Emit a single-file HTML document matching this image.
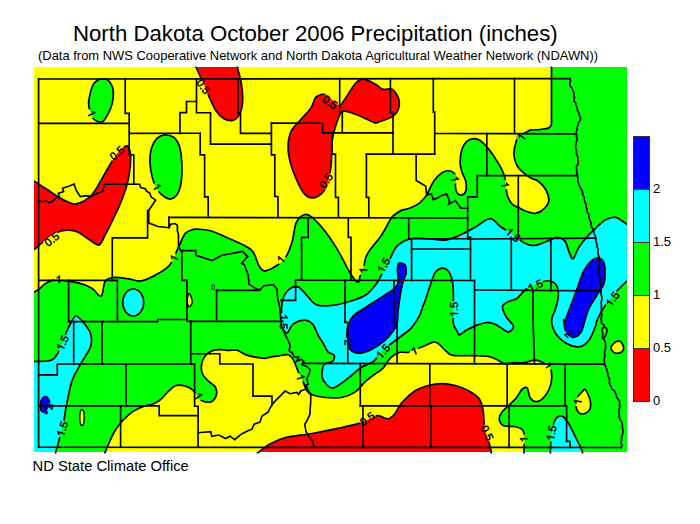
<!DOCTYPE html>
<html><head><meta charset="utf-8"><style>
html,body{margin:0;padding:0;background:#fff;width:700px;height:524px;overflow:hidden}
svg{display:block}
text{font-family:"Liberation Sans",sans-serif}
</style></head><body>
<svg width="700" height="524" viewBox="0 0 700 524">
<rect width="700" height="524" fill="#fff"/>
<text x="73" y="41" font-size="22.2" fill="#000">North Dakota October 2006 Precipitation (inches)</text>
<text x="38" y="60" font-size="12.95" fill="#000">(Data from NWS Cooperative Network and North Dakota Agricultural Weather Network (NDAWN))</text>
<defs><path id="gl46" d="M187 0V219H382V0Z"/><path id="gl48" d="M1059 705Q1059 352 934.5 166.0Q810 -20 567 -20Q324 -20 202.0 165.0Q80 350 80 705Q80 1068 198.5 1249.0Q317 1430 573 1430Q822 1430 940.5 1247.0Q1059 1064 1059 705ZM876 705Q876 1010 805.5 1147.0Q735 1284 573 1284Q407 1284 334.5 1149.0Q262 1014 262 705Q262 405 335.5 266.0Q409 127 569 127Q728 127 802.0 269.0Q876 411 876 705Z"/><path id="gl49" d="M763 0H583V1147Q518 1085 412 1023Q307 961 223 930V1104Q374 1175 487 1276Q600 1377 647 1472H763Z"/><path id="gl50" d="M103 0V127Q154 244 227.5 333.5Q301 423 382.0 495.5Q463 568 542.5 630.0Q622 692 686.0 754.0Q750 816 789.5 884.0Q829 952 829 1038Q829 1154 761.0 1218.0Q693 1282 572 1282Q457 1282 382.5 1219.5Q308 1157 295 1044L111 1061Q131 1230 254.5 1330.0Q378 1430 572 1430Q785 1430 899.5 1329.5Q1014 1229 1014 1044Q1014 962 976.5 881.0Q939 800 865.0 719.0Q791 638 582 468Q467 374 399.0 298.5Q331 223 301 153H1036V0Z"/><path id="gl53" d="M1053 459Q1053 236 920.5 108.0Q788 -20 553 -20Q356 -20 235.0 66.0Q114 152 82 315L264 336Q321 127 557 127Q702 127 784.0 214.5Q866 302 866 455Q866 588 783.5 670.0Q701 752 561 752Q488 752 425.0 729.0Q362 706 299 651H123L170 1409H971V1256H334L307 809Q424 899 598 899Q806 899 929.5 777.0Q1053 655 1053 459Z"/><clipPath id="mc"><rect x="34" y="67" width="593" height="385"/></clipPath><clipPath id="sc"><rect x="34" y="66.5" width="593" height="387"/></clipPath></defs>
<mask id="gm" maskUnits="userSpaceOnUse" x="0" y="0" width="700" height="524"><rect width="700" height="524" fill="#fff"/>
<rect x="87" y="109.6" width="9" height="8" fill="#000" transform="rotate(65 91.5 113.6)"/>
<rect x="108.7" y="149.1" width="17" height="8" fill="#000" transform="rotate(-41 117.2 153.1)"/>
<rect x="152.6" y="183.1" width="9" height="8" fill="#000" transform="rotate(61 157.1 187.1)"/>
<rect x="43.5" y="235.4" width="17" height="8" fill="#000" transform="rotate(-39 52 239.4)"/>
<rect x="54.2" y="275.5" width="9" height="8" fill="#000" transform="rotate(0 58.7 279.5)"/>
<rect x="194.9" y="82.7" width="17" height="8" fill="#000" transform="rotate(55 203.4 86.7)"/>
<rect x="321.7" y="98.2" width="17" height="8" fill="#000" transform="rotate(35 330.2 102.2)"/>
<rect x="317.7" y="176.7" width="17" height="8" fill="#000" transform="rotate(-56 326.2 180.7)"/>
<rect x="169.7" y="254.2" width="9" height="8" fill="#000" transform="rotate(-63 174.2 258.2)"/>
<rect x="276.6" y="255.5" width="9" height="8" fill="#000" transform="rotate(-50 281.1 259.5)"/>
<rect x="359.1" y="266.5" width="9" height="8" fill="#000" transform="rotate(-85 363.6 270.5)"/>
<rect x="450.5" y="175.1" width="9" height="8" fill="#000" transform="rotate(80 455 179.1)"/>
<rect x="500.4" y="180.9" width="9" height="8" fill="#000" transform="rotate(80 504.9 184.9)"/>
<rect x="504.4" y="231.1" width="17" height="8" fill="#000" transform="rotate(40 512.9 235.1)"/>
<rect x="275.2" y="317.7" width="17" height="8" fill="#000" transform="rotate(90 283.7 321.7)"/>
<rect x="343.9" y="338.5" width="9" height="8" fill="#000" transform="rotate(90 348.4 342.5)"/>
<rect x="374.6" y="347.4" width="17" height="8" fill="#000" transform="rotate(-50 383.1 351.4)"/>
<rect x="409.8" y="346.9" width="9" height="8" fill="#000" transform="rotate(-22 414.3 350.9)"/>
<rect x="296" y="373.4" width="9" height="8" fill="#000" transform="rotate(72 300.5 377.4)"/>
<rect x="526.8" y="281.8" width="17" height="8" fill="#000" transform="rotate(-25 535.3 285.8)"/>
<rect x="604.1" y="295.1" width="17" height="8" fill="#000" transform="rotate(-55 612.6 299.1)"/>
<rect x="564.1" y="329.8" width="9" height="8" fill="#000" transform="rotate(45 568.6 333.8)"/>
<rect x="544.5" y="361.2" width="9" height="8" fill="#000" transform="rotate(55 549 365.2)"/>
<rect x="573.5" y="397.8" width="9" height="8" fill="#000" transform="rotate(-80 578 401.8)"/>
<rect x="358.9" y="414.9" width="17" height="8" fill="#000" transform="rotate(-35 367.4 418.9)"/>
<rect x="478.7" y="429" width="17" height="8" fill="#000" transform="rotate(65 487.2 433)"/>
<rect x="519.6" y="435.3" width="9" height="8" fill="#000" transform="rotate(-90 524.1 439.3)"/>
<rect x="543" y="429" width="17" height="8" fill="#000" transform="rotate(-80 551.5 433)"/>
<rect x="54.1" y="338.9" width="17" height="8" fill="#000" transform="rotate(-65 62.6 342.9)"/>
<rect x="44.4" y="403" width="9" height="8" fill="#000" transform="rotate(-90 48.9 407)"/>
<rect x="53.9" y="425" width="17" height="8" fill="#000" transform="rotate(-72 62.4 429)"/>
<rect x="375.2" y="261.2" width="17" height="8" fill="#000" transform="rotate(-60 383.7 265.2)"/>
<rect x="445.5" y="305.5" width="17" height="8" fill="#000" transform="rotate(-90 454 309.5)"/>
<rect x="517.2" y="133.2" width="9" height="8" fill="#000" transform="rotate(-52 521.7 137.2)"/>
<rect x="193.9" y="392.3" width="9" height="8" fill="#000" transform="rotate(57 198.4 396.3)"/>
</mask>
<g clip-path="url(#mc)">
<rect x="34" y="67" width="593" height="385" fill="#ffff00"/>
<path d="M20,172 L33.8,180.9 C36,182.3 42.5,186.5 46.8,189.3 C51.1,192.1 54.9,195.2 59.4,197.7 C63.9,200.1 69.8,203.5 74,204 C78.2,204.5 81.3,202.6 84.5,200.8 C87.7,199.1 90.1,197 92.9,193.5 C95.7,190 98.5,184.6 101.3,179.9 C104.1,175.2 106.9,169.8 109.7,165.2 C112.5,160.6 115.5,155.8 118.1,152.6 C120.7,149.4 123.7,147.2 125.4,146.3 C127.2,145.4 127.7,145.6 128.6,147.3 C129.5,149.1 130.7,151.7 130.7,156.8 C130.7,161.9 130,170.8 128.6,177.8 C127.2,184.8 124.8,192.1 122.3,198.7 C119.8,205.3 116.7,211.6 113.9,217.6 C111.1,223.6 108,229.8 105.5,234.4 C103,239 101.7,243.9 99.2,244.9 C96.8,245.9 94.3,242.8 90.8,240.7 C87.3,238.6 82,234.1 78.2,232.3 C74.4,230.6 71.3,230.2 67.8,230.2 C64.3,230.2 60.8,230.9 57.3,232.3 C53.8,233.7 50.3,236 46.8,238.6 C43.3,241.2 38,246.4 36.3,248 L20,258 L20,172Z" fill="#ff0000"/>
<path d="M194,60 L237.4,60 L237.4,67.5 C238.1,70.2 240.5,78.6 241.4,84 C242.3,89.4 242.9,95.1 242.7,100 C242.5,104.9 241.6,110.1 240,113.4 C238.4,116.8 236.1,119.2 233.4,120.1 C230.7,121 226.9,120.3 224,118.8 C221.1,117.2 218.4,114.4 216,110.8 C213.6,107.2 211.6,102.3 209.4,97.4 C207.2,92.5 204.3,85 202.7,81.4 C201.1,77.8 201.1,78.4 200,76 C198.9,73.6 196.7,68.5 196,67 L194,60Z" fill="#ff0000"/>
<path d="M317.6,96.1 C319.4,95.4 322.1,93.2 325.6,94.7 C329.2,96.2 335.8,104.5 338.9,105.4 C342,106.3 341.6,103.7 344.3,100.1 C347,96.5 351.9,87.5 355,84 C358.1,80.5 359.7,79.2 363,79.2 C366.3,79.2 371.7,82.3 375,84 C378.3,85.7 380.1,88.5 383,89.4 C385.9,90.3 389.7,87.6 392.4,89.4 C395.1,91.2 398.1,96.4 399,100 C399.9,103.6 399,107.9 397.7,110.8 C396.4,113.7 393.9,115.6 391,117.4 C388.1,119.2 383,120.5 380.3,121.4 C377.6,122.3 377.9,123.5 375,122.8 C372.1,122.1 367.2,119.2 363,117.4 C358.8,115.6 353.2,113 349.6,112.1 C346,111.2 343.8,110.1 341.6,112.1 C339.4,114.1 337.9,119.4 336.3,124.1 C334.7,128.8 333.1,133.1 332.2,140.2 C331.3,147.3 332,158.9 330.9,166.9 C329.8,174.9 328.3,183.1 325.6,188.2 C322.9,193.3 318.5,196.7 314.9,197.6 C311.3,198.5 307.8,197.8 304.2,193.6 C300.6,189.4 296.2,179.3 293.5,172.2 C290.8,165.1 288.6,157.5 288.2,150.8 C287.8,144.1 288.6,137.4 290.8,132.1 C293,126.8 298.1,122.8 301.5,118.8 C304.9,114.8 308.7,111.4 310.9,108.1 C313.1,104.8 313.8,100.7 314.9,98.7 C316,96.7 315.8,96.8 317.6,96.1Z" fill="#ff0000"/>
<path d="M101.8,79.2 C103.3,79.2 105.7,78.4 107.5,79.7 C109.3,81 111.6,84.2 112.6,87.2 C113.5,90.2 113.5,94.1 113.2,97.5 C112.9,100.9 112.1,104.5 110.9,107.8 C109.8,111 107.8,114.6 106.3,117 C104.8,119.4 103.9,121.7 101.8,122.1 C99.7,122.5 95.6,121 93.7,119.2 C91.8,117.4 91.2,113.9 90.3,111.2 C89.4,108.5 88.5,106.6 88.6,103.2 C88.7,99.8 90.1,93.8 90.9,90.6 C91.8,87.3 92.5,85.5 93.7,83.7 C94.9,81.9 97,80.5 98.3,79.7 C99.6,79 100.3,79.2 101.8,79.2Z" fill="#00ff00"/>
<path d="M164.4,134.9 C167.2,134.7 171.2,135.5 173.6,137.2 C176,138.8 177.6,141.8 178.9,144.8 C180.2,147.9 180.7,151.2 181.2,155.5 C181.7,159.8 182.1,165.7 182,170.8 C181.9,175.9 181.4,182 180.5,186.1 C179.6,190.2 178.3,193 176.6,195.2 C174.9,197.3 172.5,198.7 170.5,199 C168.5,199.3 166.7,198.5 164.4,196.8 C162.1,195.2 158.8,192.4 156.8,189.1 C154.8,185.8 153.3,181.5 152.2,176.9 C151,172.3 150,166.4 149.9,161.6 C149.8,156.8 150.3,151.7 151.5,147.9 C152.7,144.1 154.7,140.9 156.8,138.7 C159,136.5 161.6,135.2 164.4,134.9Z" fill="#00ff00"/>
<path d="M20,296 L34.4,292 C35.2,291.5 37.6,290.3 39.3,289 C41,287.7 42.7,285.5 44.7,284.1 C46.7,282.7 49.3,281.5 51.4,280.8 C53.5,280.1 52.6,279.5 57.1,279.8 C61.6,280.1 72.6,281.5 78.4,282.9 C84.2,284.3 88,286 91.8,288.2 C95.6,290.4 98.9,297.3 101.1,296.2 C103.3,295.1 103.1,284.6 105.1,281.5 C107.1,278.4 109.2,277.9 113.2,277.5 C117.2,277.1 124.7,278.3 129.2,278.9 C133.6,279.5 135.9,281.4 139.9,281 C143.9,280.6 148.3,278.8 153.2,276.2 C158.1,273.6 165.1,270.4 169.3,265.5 C173.5,260.6 175.9,252.2 178.6,246.8 C181.3,241.5 182.9,236.3 185.3,233.4 C187.8,230.5 190.9,230.1 193.3,229.4 C195.8,228.7 197.1,229.2 200,229.4 C202.9,229.6 206.2,229.5 210.7,230.8 C215.1,232.1 220,234.3 226.7,237.4 C233.4,240.5 245.5,244.8 250.8,249.5 C256.2,254.2 256.6,261.9 258.8,265.5 C261,269.1 261.4,270.6 264.1,270.8 C266.8,271 271.2,269 274.8,266.8 C278.4,264.6 282.6,261.7 285.5,257.5 C288.4,253.3 290.4,247.2 292.2,241.4 C294,235.6 294.2,227.1 296.2,222.7 C298.2,218.2 301.5,215.6 304.2,214.7 C306.9,213.8 308.6,214.5 312.2,217.4 C315.8,220.3 321.2,226.3 325.6,232.1 C330.1,237.9 334.9,245.4 338.9,252.1 C342.9,258.8 346.5,267.2 349.6,272.2 C352.7,277.2 355.8,281.6 357.6,282.2 C359.4,282.8 359.2,278.2 360.2,275.7 C361.2,273.2 362.8,270 363.7,267.1 C364.6,264.2 364.5,261.1 365.4,258.5 C366.2,255.9 367.4,253.9 368.8,251.6 C370.2,249.3 372,247.4 374,244.8 C376,242.2 378.8,239.1 380.8,236.2 C382.8,233.3 384.3,230.6 386,227.6 C387.7,224.6 389.7,220.3 391.1,218.2 C392.5,216 392.9,216 394.6,214.7 C396.3,213.4 398.9,211.5 401.4,210.4 C403.9,209.3 406.6,209.4 409.5,208.2 C412.4,207 416.2,205.6 419.1,203.4 C422,201.2 424.5,198.2 426.7,194.9 C428.9,191.6 430.5,186.6 432.4,183.4 C434.3,180.2 436,177.9 438.2,175.8 C440.4,173.7 443.4,171.6 445.8,171 C448.2,170.4 450.8,171.1 452.5,172 C454.2,172.9 455.8,174.5 456.3,176.7 C456.8,178.9 455.2,182.6 455.3,185.3 C455.4,188 456.1,191.4 457.2,193 C458.3,194.6 460.6,195.2 462,194.9 C463.4,194.6 465.2,193.2 465.8,191 C466.4,188.8 466.4,184.7 465.8,181.5 C465.2,178.3 462.9,175.2 462,172 C461.1,168.8 460.1,166.2 460.1,162.4 C460.1,158.6 460.9,152.6 462,149.1 C463.1,145.6 464.9,143.2 466.8,141.4 C468.7,139.7 471.2,138.8 473.4,138.6 C475.6,138.4 477.7,138.9 480.1,140.5 C482.5,142.1 485.2,145.1 487.8,148.1 C490.4,151.1 493.2,155.2 495.4,158.6 C497.6,161.9 499.5,165 501.1,168.2 C502.7,171.4 504.1,174.5 504.9,177.7 C505.7,180.9 505.4,184 505.9,187.2 C506.4,190.4 506.7,193.9 507.8,196.8 C508.9,199.7 510.6,202.5 512.6,204.4 C514.6,206.3 518,207.1 520,208.2 C522,209.2 522.1,209.8 524.6,210.7 C527.1,211.6 532.2,213.6 535.3,213.4 C538.4,213.2 541.1,211.4 543.3,209.4 C545.5,207.4 548.2,204.6 548.7,201.4 C549.2,198.2 547.8,193.4 546,190 C544.2,186.6 540.7,183.1 538,181 C535.3,178.9 533.4,179.9 530,177.6 C526.6,175.2 520.6,170.9 517.9,166.9 C515.2,162.9 514.1,157.9 513.9,153.5 C513.7,149.1 515.9,143.2 516.6,140.2 C517.3,137.2 517,136.8 518.3,135.6 C519.6,134.4 522.4,134.2 524.4,133.3 C526.4,132.4 528,130.8 530.5,130.2 C533,129.6 536.6,129.9 539.7,129.5 C542.8,129.1 546.9,128.8 548.9,127.9 C550.9,127 551.1,124.7 551.5,124.1 L551.5,60 L640,60 L640,460 L523.3,460 L524,451.4 C524,449.5 524.3,443.1 524.3,440 C524.3,436.9 524.5,434.9 524,433 C523.5,431.1 522.7,429.6 521,428.5 C519.3,427.4 517,427 514,426.5 C511,426 505.7,426.8 503.2,425.5 C500.7,424.2 499.4,421.1 499.2,418.9 C499,416.7 500.3,414.4 501.9,412.2 C503.5,410 506.2,407.9 508.6,405.5 C511.1,403.1 514.4,400.2 516.6,397.5 C518.8,394.8 520.2,391.1 522,389.5 C523.8,387.9 526,386.8 527.3,388.1 C528.6,389.4 528.6,395.3 530,397.5 C531.4,399.7 533.4,401.3 535.5,401.5 C537.6,401.7 540.1,400.8 542.4,398.8 C544.6,396.8 547.5,392.8 549,389.5 C550.5,386.2 551.5,382.4 551.7,378.8 C551.9,375.2 551.4,370.6 550.4,368.1 C549.4,365.7 548.5,365.4 546,364.1 C543.5,362.8 538.9,360.3 535.3,360.1 C531.7,359.9 528.2,362.3 524.6,362.7 C521,363.1 517.2,362.6 513.9,362.7 C510.6,362.8 507.7,364.1 504.7,363.5 C501.7,362.9 498.7,360.3 496.1,359.2 C493.5,358.1 492.6,357.2 489.2,356.6 C485.8,356 481.5,355.9 475.5,355.7 C469.5,355.5 458.1,356.1 453.2,355.4 C448.3,354.7 448.6,353.2 446.3,351.4 C444,349.6 441.5,346.2 439.5,344.6 C437.5,343 436.6,341.9 434.3,342 C432,342.1 428.3,344.4 425.7,345.4 C423.1,346.4 421.9,346.9 418.9,348 C415.9,349.1 410.8,351.6 407.7,352.3 C404.6,353 402.8,351.5 400,352.3 C397.2,353.1 393.8,354.8 391,357.4 C388.2,360 385.7,365.3 383,368.1 C380.3,370.9 377.9,371.8 375,374 C372.1,376.2 368.9,378.4 365.6,381.4 C362.3,384.4 359,389.4 355,392.1 C351,394.8 346.5,396.6 341.6,397.5 C336.7,398.4 330.5,397.9 325.6,397.5 C320.7,397.1 315.3,395.9 312.2,394.8 C309.1,393.7 308.4,393 306.9,390.8 C305.3,388.6 304.2,384.3 302.9,381.4 C301.6,378.5 300.5,376.9 298.9,373.4 C297.3,369.8 295.3,363.2 293.5,360.1 C291.7,357 290.9,355.4 288.2,354.7 C285.5,354 280.5,355.7 277.5,356.1 C274.5,356.5 272.2,356.8 270,357.2 C267.8,357.6 266.9,358.3 264.5,358.3 C262.1,358.3 258.4,357.8 255.3,357.2 C252.2,356.6 249.2,356 246.2,354.9 C243.1,353.8 240.1,351.1 237,350.3 C233.9,349.5 231,350.4 227.9,350.3 C224.8,350.2 221.4,349.5 218.7,349.6 C216,349.7 214.1,349.9 211.8,351 C209.5,352.1 206.7,353.6 205,356 C203.3,358.4 201.9,362.1 201.5,365.2 C201.1,368.2 201.5,371.6 202.7,374.3 C203.8,377 206.3,379.1 208.4,381.2 C210.5,383.3 214,384.7 215.3,387 C216.6,389.3 217,392.6 216.4,395 C215.8,397.4 213.7,400.3 211.8,401.4 C209.9,402.5 207.3,402.3 205,401.8 C202.7,401.3 199.6,399.7 198.1,398.4 C196.6,397.1 197.1,395.5 195.8,393.8 C194.5,392.1 192.4,389.5 190.1,388.1 C187.8,386.7 184.6,385.7 182.1,385.3 C179.6,384.9 177.5,384.8 175.2,385.8 C172.9,386.8 171,389 168.3,391.5 C165.6,394 162.2,398.4 159.2,400.7 C156.1,403 151.9,404.6 150,405.3 C148.1,406 150.9,403.9 147.9,405 C144.9,406.1 137.2,408.1 131.9,412.2 C126.6,416.3 120.3,422.8 115.8,429.5 C111.3,436.2 106.9,448.4 105.1,452.2 L105,460 L20,460 L20,296Z" fill="#00ff00"/>
<path d="M258.8,452.2 C260.6,450.9 265.1,446.6 269.5,444.2 C273.9,441.8 278.4,439.4 285.5,437.6 C292.6,435.8 303.3,435.1 312.2,433.5 C321.1,431.9 330.9,430 338.9,428.2 C346.9,426.4 354.3,424.9 360.3,422.9 C366.3,420.9 371.7,417.3 375,416.2 C378.3,415.1 378.1,415.8 380.3,416.2 C382.5,416.6 385.9,419.3 388.4,418.9 C390.8,418.4 392.8,416.2 395,413.5 C397.2,410.8 398.3,406.6 401.7,402.8 C405.1,399 410.7,393.7 415.1,390.8 C419.6,387.9 423.9,386.7 428.4,385.5 C432.8,384.3 437.3,383.6 441.8,383.6 C446.3,383.6 450.8,384.3 455.2,385.5 C459.6,386.7 464.5,388.6 468.5,390.8 C472.5,393 476.8,395.5 479.2,398.8 C481.6,402.1 482.3,406.1 483.2,410.8 C484.1,415.5 483.6,422 484.5,426.9 C485.4,431.8 487.4,436.1 488.5,440.2 C489.6,444.3 490.8,449.5 491.2,451.4 L491.2,460 L250,460 L258.8,452.2Z" fill="#ff0000"/>
<path d="M189,293.5 C189.7,293.6 191,296.5 191.5,298 C192,299.5 192.4,301.2 192.2,302.5 C192,303.8 191.1,305.4 190.5,306 C189.9,306.6 189.1,306.9 188.5,306.2 C187.9,305.5 187.4,303.4 187.2,302 C187,300.6 187.2,298.9 187.5,297.5 C187.8,296.1 188.3,293.4 189,293.5Z" fill="#ffff00"/>
<ellipse cx="82" cy="417.5" rx="2.2" ry="8" fill="#ffff00"/>
<path d="M577.5,396.9 C578.4,395.4 579.9,394 581.2,392.8 C582.5,391.6 583.8,388.7 585.2,389.6 C586.6,390.5 588.6,395.8 589.5,398 C590.4,400.2 590.5,401.2 590.6,403 C590.7,404.8 590.8,407.3 590,409 C589.2,410.7 587.4,412.6 585.6,413.3 C583.9,414 581,414.1 579.5,413.3 C578,412.5 577.1,410.6 576.5,408.7 C575.9,406.8 575.8,404 576,402 C576.2,400 576.6,398.4 577.5,396.9Z" fill="#ffff00"/>
<path d="M611,347.3 C611.4,346.1 612.7,344.2 614.1,343.1 C615.5,342.1 617.9,340.8 619.3,341 C620.7,341.2 621.8,342.8 622.5,344.2 C623.2,345.6 623.9,348 623.5,349.4 C623.1,350.8 621.8,352 620.4,352.6 C619,353.2 616.5,353.4 615.1,353 C613.7,352.6 612.7,351.4 612,350.5 C611.3,349.6 610.6,348.5 611,347.3Z" fill="#ffff00"/>
<path d="M282.9,298.7 C284.3,294.6 287.4,290.5 290,288.6 C292.6,286.7 295.7,286 298.6,287.2 C301.5,288.4 304.3,292.9 307.2,295.8 C310.1,298.7 312.4,302.7 315.8,304.4 C319.2,306.1 322.5,306 327.3,305.8 C332.1,305.6 338.2,304.7 344.4,303 C350.6,301.3 359.2,298.9 364.5,295.8 C369.8,292.7 373,288 375.9,284.4 C378.8,280.8 379.3,278.6 381.7,274.3 C384.1,270 387.8,263.2 390.2,258.6 C392.6,254 393.1,250.1 396.4,246.8 C399.6,243.5 404.4,240.1 409.7,238.8 C415,237.5 422.6,238.6 428.4,238.8 C434.2,239 439.6,240.6 444.5,240.1 C449.4,239.6 452.9,238.1 457.8,236.1 C462.7,234.1 468.5,231 473.9,228.1 C479.2,225.2 485.4,218.9 489.9,218.7 C494.3,218.5 497,224.4 500.6,226.8 C504.2,229.2 507.8,231 511.3,233.4 C514.9,235.8 518.4,239.4 521.9,241.4 C525.4,243.4 529,245.3 532.6,245.5 C536.2,245.7 540.4,243.7 543.3,242.8 C546.2,241.9 547.7,241 550,240.1 C552.3,239.2 554.6,237.2 557.1,237.4 C559.6,237.6 563.1,239 565.1,241.4 C567.1,243.8 567.8,249.2 569.1,252.1 C570.4,255 571.6,259.5 573.1,258.8 C574.6,258.1 576.2,251.7 578.4,248.1 C580.6,244.5 583.7,240.5 586.4,237.4 C589.1,234.3 591.4,232.3 594.5,229.4 C597.6,226.5 601.7,222.1 605.2,220.1 C608.8,218.1 612.2,216.7 615.8,217.4 C619.3,218.1 624.7,223 626.5,224.1 L640,230 L640,275 L626.5,281.5 C624.7,283.3 619.3,288.2 615.8,292.2 C612.2,296.2 608.3,301 605.2,305.6 C602.1,310.2 598.7,316.7 597.1,320 C595.5,323.3 597.1,322 595.8,325.3 C594.5,328.6 591.8,336.4 589.1,340 C586.4,343.6 583.4,346 579.8,346.7 C576.2,347.4 571.7,346.2 567.7,344 C563.7,341.8 558.4,337.4 555.7,333.4 C553,329.4 551.7,324.2 551.7,320 C551.7,315.8 554.6,312.4 555.7,308.2 C556.8,304 558.4,298.9 558.4,294.9 C558.4,290.9 557.7,286.5 555.7,284.2 C553.7,281.9 550.2,280.8 546.4,281 C542.6,281.2 536.6,284 533,285.5 C529.4,287 527.6,287.9 525,290 C522.4,292.1 519.9,296.3 517.2,298.2 C514.5,300.1 511.1,300.3 508.7,301.5 C506.3,302.7 503.9,303.9 503,305.3 C502.1,306.7 502.4,308 503,310.1 C503.6,312.2 505.1,315 506.8,317.7 C508.6,320.4 513.2,323.9 513.5,326.3 C513.8,328.7 510.4,331.6 508.7,332.1 C506.9,332.6 505.2,330.5 503,329.2 C500.8,327.9 497.9,325.5 495.4,324.4 C492.8,323.3 490.9,322.3 487.7,322.5 C484.5,322.7 479.8,324.1 476.3,325.4 C472.8,326.7 469.6,328.5 466.7,330.1 C463.8,331.7 460.7,334.7 459.1,334.9 C457.5,335.1 458.1,333 457.2,331.1 C456.2,329.2 454,328.3 453.4,323.5 C452.8,318.7 453.4,308.3 453.4,302.5 C453.4,296.7 453.5,292.9 453.2,288.9 C452.9,284.8 452.6,281.3 451.7,278.2 C450.8,275.1 449.5,272.2 447.9,270.5 C446.2,268.8 443.9,267.9 441.8,268.2 C439.8,268.5 437.4,269.7 435.6,272.1 C433.8,274.5 432.9,277.9 431.1,282.7 C429.3,287.5 426.4,297.2 425,301.1 C423.6,305 424,303.4 423,306 C422,308.6 421,312.8 419.1,316.4 C417.2,320 414,324.9 411.5,327.8 C409,330.7 406.6,332 404,334 C401.4,336 398.7,338 396,340 C393.3,342 390.6,344 388,346 C385.4,348 382.8,349.5 380.5,352 C378.2,354.5 377.1,358.5 374,361 C370.9,363.5 365.7,364.7 362,367 C358.3,369.3 355.3,372.3 352,375 C348.7,377.7 345.2,380.8 342,383 C338.8,385.2 335.5,387.7 333,388 C330.5,388.3 328.8,386.8 327,385 C325.2,383.2 322.7,380 322,377 C321.3,374 322.5,369.2 323,367 C323.5,364.8 323.3,365 325,364 C326.7,363 331.5,362.5 333,361 C334.5,359.5 334.8,356.5 334,355 C333.2,353.5 329.8,354 328,352 C326.2,350 324.7,345.8 323,343 C321.3,340.2 319.7,338.1 318,335 C316.3,331.9 315.2,326.9 312.9,324.4 C310.6,321.9 307.7,320.1 304.4,320.1 C301.1,320.1 295.8,322.2 292.9,324.4 C290,326.5 288.9,332.5 287.2,333 C285.5,333.5 283.8,330.6 282.9,327.3 C281.9,324 281.5,317.8 281.5,313 C281.5,308.2 281.5,302.8 282.9,298.7Z" fill="#00ffff"/>
<path d="M20,361.4 L34.4,361.4 C37.3,361.2 47.5,362.1 51.7,360.1 C55.9,358.1 57.2,354.1 59.7,349.4 C62.2,344.7 64.4,336.7 66.4,332 C68.4,327.3 70.2,324 71.8,321.3 C73.4,318.6 74.2,316 76,316 C77.8,316 80,318.4 82.4,321.3 C84.8,324.2 89.2,329.2 90.5,333.4 C91.8,337.6 92.3,341.4 90.5,346.7 C88.7,352 82.9,359.6 79.8,365.4 C76.7,371.2 74,374.7 71.8,381.4 C69.6,388.1 67.8,398.8 66.4,405.5 C65.1,412.2 64.8,416.1 63.7,421.5 C62.6,426.9 61,432.5 59.7,437.6 C58.4,442.7 56.4,449.8 55.7,452.2 L55,460 L20,460 L20,361.4Z" fill="#00ffff"/>
<path d="M550.4,460 L550.4,451.4 C550.6,448.2 550.8,437.6 551.7,432.2 C552.6,426.8 553.9,421.6 555.7,418.9 C557.5,416.2 560.2,415.3 562.4,416.2 C564.6,417.1 567.1,421.1 569.1,424.2 C571.1,427.3 572.6,431.3 574.4,434.9 C576.2,438.5 578.5,442.9 579.8,445.6 C581.1,448.4 582,450.4 582.4,451.4 L583,460 L550.4,460Z" fill="#00ffff"/>
<ellipse cx="133.2" cy="302.5" rx="10.5" ry="13.5" fill="#00ffff"/>
<path d="M398.1,264 C398.8,262.5 400.3,263 401.5,263.2 C402.7,263.4 404.4,263.4 405.2,265 C406,266.6 406.5,270.3 406.2,273 C405.9,275.7 404.2,277.4 403.2,281.1 C402.2,284.8 401,290.1 400.2,295.1 C399.4,300.1 398.6,306.4 398.1,311.1 C397.6,315.8 397.9,319.9 397.1,323.2 C396.3,326.5 395.3,328.2 393.1,331.2 C390.9,334.2 387.9,338 384.1,341.2 C380.3,344.4 374.5,348.2 370.1,350.2 C365.8,352.2 361.4,353.4 358,353.2 C354.6,353 351.8,351.5 350,349.2 C348.2,346.9 347.3,343.2 347,339.2 C346.7,335.2 346.8,329.2 348,325.2 C349.2,321.2 351,318.2 354,315.2 C357,312.2 361.8,310 366.1,307.1 C370.5,304.2 375.3,301.3 380.1,298.1 C384.9,294.9 392.1,290.9 395.1,288.1 C398.1,285.3 397.7,283.8 398.1,281.1 C398.5,278.4 397.5,274.9 397.5,272 C397.5,269.1 397.4,265.5 398.1,264Z" fill="#0000ff"/>
<path d="M565.1,320 C567.1,315.4 572.7,300.4 575.8,292.2 C578.9,284 580.7,276.4 583.8,270.8 C586.9,265.2 591.4,260.6 594.5,258.8 C597.6,257 600.7,258.1 602.5,260.1 C604.3,262.1 605,266.8 605.2,270.8 C605.4,274.8 605.1,280.2 603.8,284.2 C602.4,288.2 599.5,290.9 597.1,294.9 C594.7,298.9 591.1,304 589.1,308.2 C587.1,312.4 586.4,316 585.1,320 C583.8,324 583.1,329.1 581.1,332 C579.1,334.9 575.6,337.2 573.1,337.4 C570.6,337.6 568,336.3 566.4,333.4 C564.8,330.5 563.9,322.2 563.7,320 C563.5,317.8 563.1,324.6 565.1,320Z" fill="#0000ff"/>
<path d="M40.4,403.6 C40.6,402.2 40.9,399.8 41.9,398.6 C42.9,397.4 45,396.3 46.2,396.5 C47.4,396.7 48.4,398.9 49,400 C49.6,401.1 49.6,402 50,403 C50.4,404 51.6,404.9 51.2,405.8 C50.8,406.7 48.3,407.3 47.6,408.6 C46.9,409.9 47.5,413 46.9,413.6 C46.3,414.2 45,412.7 44,412.2 C43,411.7 41.8,411.6 41.2,410.8 C40.6,410 40.5,408.4 40.4,407.2 C40.3,406 40.1,405 40.4,403.6Z" fill="#0000ff"/>
<ellipse cx="213.2" cy="287.3" rx="1.3" ry="2.8" fill="#00ffff"/>
</g>
<g clip-path="url(#sc)"><g fill="none" stroke="#000" stroke-linejoin="round" mask="url(#gm)">
<path d="M20,172 L33.8,180.9 C36,182.3 42.5,186.5 46.8,189.3 C51.1,192.1 54.9,195.2 59.4,197.7 C63.9,200.1 69.8,203.5 74,204 C78.2,204.5 81.3,202.6 84.5,200.8 C87.7,199.1 90.1,197 92.9,193.5 C95.7,190 98.5,184.6 101.3,179.9 C104.1,175.2 106.9,169.8 109.7,165.2 C112.5,160.6 115.5,155.8 118.1,152.6 C120.7,149.4 123.7,147.2 125.4,146.3 C127.2,145.4 127.7,145.6 128.6,147.3 C129.5,149.1 130.7,151.7 130.7,156.8 C130.7,161.9 130,170.8 128.6,177.8 C127.2,184.8 124.8,192.1 122.3,198.7 C119.8,205.3 116.7,211.6 113.9,217.6 C111.1,223.6 108,229.8 105.5,234.4 C103,239 101.7,243.9 99.2,244.9 C96.8,245.9 94.3,242.8 90.8,240.7 C87.3,238.6 82,234.1 78.2,232.3 C74.4,230.6 71.3,230.2 67.8,230.2 C64.3,230.2 60.8,230.9 57.3,232.3 C53.8,233.7 50.3,236 46.8,238.6 C43.3,241.2 38,246.4 36.3,248 L20,258 L20,172Z" stroke-width="1.7"/>
<path d="M194,60 L237.4,60 L237.4,67.5 C238.1,70.2 240.5,78.6 241.4,84 C242.3,89.4 242.9,95.1 242.7,100 C242.5,104.9 241.6,110.1 240,113.4 C238.4,116.8 236.1,119.2 233.4,120.1 C230.7,121 226.9,120.3 224,118.8 C221.1,117.2 218.4,114.4 216,110.8 C213.6,107.2 211.6,102.3 209.4,97.4 C207.2,92.5 204.3,85 202.7,81.4 C201.1,77.8 201.1,78.4 200,76 C198.9,73.6 196.7,68.5 196,67 L194,60Z" stroke-width="1.7"/>
<path d="M317.6,96.1 C319.4,95.4 322.1,93.2 325.6,94.7 C329.2,96.2 335.8,104.5 338.9,105.4 C342,106.3 341.6,103.7 344.3,100.1 C347,96.5 351.9,87.5 355,84 C358.1,80.5 359.7,79.2 363,79.2 C366.3,79.2 371.7,82.3 375,84 C378.3,85.7 380.1,88.5 383,89.4 C385.9,90.3 389.7,87.6 392.4,89.4 C395.1,91.2 398.1,96.4 399,100 C399.9,103.6 399,107.9 397.7,110.8 C396.4,113.7 393.9,115.6 391,117.4 C388.1,119.2 383,120.5 380.3,121.4 C377.6,122.3 377.9,123.5 375,122.8 C372.1,122.1 367.2,119.2 363,117.4 C358.8,115.6 353.2,113 349.6,112.1 C346,111.2 343.8,110.1 341.6,112.1 C339.4,114.1 337.9,119.4 336.3,124.1 C334.7,128.8 333.1,133.1 332.2,140.2 C331.3,147.3 332,158.9 330.9,166.9 C329.8,174.9 328.3,183.1 325.6,188.2 C322.9,193.3 318.5,196.7 314.9,197.6 C311.3,198.5 307.8,197.8 304.2,193.6 C300.6,189.4 296.2,179.3 293.5,172.2 C290.8,165.1 288.6,157.5 288.2,150.8 C287.8,144.1 288.6,137.4 290.8,132.1 C293,126.8 298.1,122.8 301.5,118.8 C304.9,114.8 308.7,111.4 310.9,108.1 C313.1,104.8 313.8,100.7 314.9,98.7 C316,96.7 315.8,96.8 317.6,96.1Z" stroke-width="1.7"/>
<path d="M101.8,79.2 C103.3,79.2 105.7,78.4 107.5,79.7 C109.3,81 111.6,84.2 112.6,87.2 C113.5,90.2 113.5,94.1 113.2,97.5 C112.9,100.9 112.1,104.5 110.9,107.8 C109.8,111 107.8,114.6 106.3,117 C104.8,119.4 103.9,121.7 101.8,122.1 C99.7,122.5 95.6,121 93.7,119.2 C91.8,117.4 91.2,113.9 90.3,111.2 C89.4,108.5 88.5,106.6 88.6,103.2 C88.7,99.8 90.1,93.8 90.9,90.6 C91.8,87.3 92.5,85.5 93.7,83.7 C94.9,81.9 97,80.5 98.3,79.7 C99.6,79 100.3,79.2 101.8,79.2Z" stroke-width="1.7"/>
<path d="M164.4,134.9 C167.2,134.7 171.2,135.5 173.6,137.2 C176,138.8 177.6,141.8 178.9,144.8 C180.2,147.9 180.7,151.2 181.2,155.5 C181.7,159.8 182.1,165.7 182,170.8 C181.9,175.9 181.4,182 180.5,186.1 C179.6,190.2 178.3,193 176.6,195.2 C174.9,197.3 172.5,198.7 170.5,199 C168.5,199.3 166.7,198.5 164.4,196.8 C162.1,195.2 158.8,192.4 156.8,189.1 C154.8,185.8 153.3,181.5 152.2,176.9 C151,172.3 150,166.4 149.9,161.6 C149.8,156.8 150.3,151.7 151.5,147.9 C152.7,144.1 154.7,140.9 156.8,138.7 C159,136.5 161.6,135.2 164.4,134.9Z" stroke-width="1.7"/>
<path d="M20,296 L34.4,292 C35.2,291.5 37.6,290.3 39.3,289 C41,287.7 42.7,285.5 44.7,284.1 C46.7,282.7 49.3,281.5 51.4,280.8 C53.5,280.1 52.6,279.5 57.1,279.8 C61.6,280.1 72.6,281.5 78.4,282.9 C84.2,284.3 88,286 91.8,288.2 C95.6,290.4 98.9,297.3 101.1,296.2 C103.3,295.1 103.1,284.6 105.1,281.5 C107.1,278.4 109.2,277.9 113.2,277.5 C117.2,277.1 124.7,278.3 129.2,278.9 C133.6,279.5 135.9,281.4 139.9,281 C143.9,280.6 148.3,278.8 153.2,276.2 C158.1,273.6 165.1,270.4 169.3,265.5 C173.5,260.6 175.9,252.2 178.6,246.8 C181.3,241.5 182.9,236.3 185.3,233.4 C187.8,230.5 190.9,230.1 193.3,229.4 C195.8,228.7 197.1,229.2 200,229.4 C202.9,229.6 206.2,229.5 210.7,230.8 C215.1,232.1 220,234.3 226.7,237.4 C233.4,240.5 245.5,244.8 250.8,249.5 C256.2,254.2 256.6,261.9 258.8,265.5 C261,269.1 261.4,270.6 264.1,270.8 C266.8,271 271.2,269 274.8,266.8 C278.4,264.6 282.6,261.7 285.5,257.5 C288.4,253.3 290.4,247.2 292.2,241.4 C294,235.6 294.2,227.1 296.2,222.7 C298.2,218.2 301.5,215.6 304.2,214.7 C306.9,213.8 308.6,214.5 312.2,217.4 C315.8,220.3 321.2,226.3 325.6,232.1 C330.1,237.9 334.9,245.4 338.9,252.1 C342.9,258.8 346.5,267.2 349.6,272.2 C352.7,277.2 355.8,281.6 357.6,282.2 C359.4,282.8 359.2,278.2 360.2,275.7 C361.2,273.2 362.8,270 363.7,267.1 C364.6,264.2 364.5,261.1 365.4,258.5 C366.2,255.9 367.4,253.9 368.8,251.6 C370.2,249.3 372,247.4 374,244.8 C376,242.2 378.8,239.1 380.8,236.2 C382.8,233.3 384.3,230.6 386,227.6 C387.7,224.6 389.7,220.3 391.1,218.2 C392.5,216 392.9,216 394.6,214.7 C396.3,213.4 398.9,211.5 401.4,210.4 C403.9,209.3 406.6,209.4 409.5,208.2 C412.4,207 416.2,205.6 419.1,203.4 C422,201.2 424.5,198.2 426.7,194.9 C428.9,191.6 430.5,186.6 432.4,183.4 C434.3,180.2 436,177.9 438.2,175.8 C440.4,173.7 443.4,171.6 445.8,171 C448.2,170.4 450.8,171.1 452.5,172 C454.2,172.9 455.8,174.5 456.3,176.7 C456.8,178.9 455.2,182.6 455.3,185.3 C455.4,188 456.1,191.4 457.2,193 C458.3,194.6 460.6,195.2 462,194.9 C463.4,194.6 465.2,193.2 465.8,191 C466.4,188.8 466.4,184.7 465.8,181.5 C465.2,178.3 462.9,175.2 462,172 C461.1,168.8 460.1,166.2 460.1,162.4 C460.1,158.6 460.9,152.6 462,149.1 C463.1,145.6 464.9,143.2 466.8,141.4 C468.7,139.7 471.2,138.8 473.4,138.6 C475.6,138.4 477.7,138.9 480.1,140.5 C482.5,142.1 485.2,145.1 487.8,148.1 C490.4,151.1 493.2,155.2 495.4,158.6 C497.6,161.9 499.5,165 501.1,168.2 C502.7,171.4 504.1,174.5 504.9,177.7 C505.7,180.9 505.4,184 505.9,187.2 C506.4,190.4 506.7,193.9 507.8,196.8 C508.9,199.7 510.6,202.5 512.6,204.4 C514.6,206.3 518,207.1 520,208.2 C522,209.2 522.1,209.8 524.6,210.7 C527.1,211.6 532.2,213.6 535.3,213.4 C538.4,213.2 541.1,211.4 543.3,209.4 C545.5,207.4 548.2,204.6 548.7,201.4 C549.2,198.2 547.8,193.4 546,190 C544.2,186.6 540.7,183.1 538,181 C535.3,178.9 533.4,179.9 530,177.6 C526.6,175.2 520.6,170.9 517.9,166.9 C515.2,162.9 514.1,157.9 513.9,153.5 C513.7,149.1 515.9,143.2 516.6,140.2 C517.3,137.2 517,136.8 518.3,135.6 C519.6,134.4 522.4,134.2 524.4,133.3 C526.4,132.4 528,130.8 530.5,130.2 C533,129.6 536.6,129.9 539.7,129.5 C542.8,129.1 546.9,128.8 548.9,127.9 C550.9,127 551.1,124.7 551.5,124.1 L551.5,60 L640,60 L640,460 L523.3,460 L524,451.4 C524,449.5 524.3,443.1 524.3,440 C524.3,436.9 524.5,434.9 524,433 C523.5,431.1 522.7,429.6 521,428.5 C519.3,427.4 517,427 514,426.5 C511,426 505.7,426.8 503.2,425.5 C500.7,424.2 499.4,421.1 499.2,418.9 C499,416.7 500.3,414.4 501.9,412.2 C503.5,410 506.2,407.9 508.6,405.5 C511.1,403.1 514.4,400.2 516.6,397.5 C518.8,394.8 520.2,391.1 522,389.5 C523.8,387.9 526,386.8 527.3,388.1 C528.6,389.4 528.6,395.3 530,397.5 C531.4,399.7 533.4,401.3 535.5,401.5 C537.6,401.7 540.1,400.8 542.4,398.8 C544.6,396.8 547.5,392.8 549,389.5 C550.5,386.2 551.5,382.4 551.7,378.8 C551.9,375.2 551.4,370.6 550.4,368.1 C549.4,365.7 548.5,365.4 546,364.1 C543.5,362.8 538.9,360.3 535.3,360.1 C531.7,359.9 528.2,362.3 524.6,362.7 C521,363.1 517.2,362.6 513.9,362.7 C510.6,362.8 507.7,364.1 504.7,363.5 C501.7,362.9 498.7,360.3 496.1,359.2 C493.5,358.1 492.6,357.2 489.2,356.6 C485.8,356 481.5,355.9 475.5,355.7 C469.5,355.5 458.1,356.1 453.2,355.4 C448.3,354.7 448.6,353.2 446.3,351.4 C444,349.6 441.5,346.2 439.5,344.6 C437.5,343 436.6,341.9 434.3,342 C432,342.1 428.3,344.4 425.7,345.4 C423.1,346.4 421.9,346.9 418.9,348 C415.9,349.1 410.8,351.6 407.7,352.3 C404.6,353 402.8,351.5 400,352.3 C397.2,353.1 393.8,354.8 391,357.4 C388.2,360 385.7,365.3 383,368.1 C380.3,370.9 377.9,371.8 375,374 C372.1,376.2 368.9,378.4 365.6,381.4 C362.3,384.4 359,389.4 355,392.1 C351,394.8 346.5,396.6 341.6,397.5 C336.7,398.4 330.5,397.9 325.6,397.5 C320.7,397.1 315.3,395.9 312.2,394.8 C309.1,393.7 308.4,393 306.9,390.8 C305.3,388.6 304.2,384.3 302.9,381.4 C301.6,378.5 300.5,376.9 298.9,373.4 C297.3,369.8 295.3,363.2 293.5,360.1 C291.7,357 290.9,355.4 288.2,354.7 C285.5,354 280.5,355.7 277.5,356.1 C274.5,356.5 272.2,356.8 270,357.2 C267.8,357.6 266.9,358.3 264.5,358.3 C262.1,358.3 258.4,357.8 255.3,357.2 C252.2,356.6 249.2,356 246.2,354.9 C243.1,353.8 240.1,351.1 237,350.3 C233.9,349.5 231,350.4 227.9,350.3 C224.8,350.2 221.4,349.5 218.7,349.6 C216,349.7 214.1,349.9 211.8,351 C209.5,352.1 206.7,353.6 205,356 C203.3,358.4 201.9,362.1 201.5,365.2 C201.1,368.2 201.5,371.6 202.7,374.3 C203.8,377 206.3,379.1 208.4,381.2 C210.5,383.3 214,384.7 215.3,387 C216.6,389.3 217,392.6 216.4,395 C215.8,397.4 213.7,400.3 211.8,401.4 C209.9,402.5 207.3,402.3 205,401.8 C202.7,401.3 199.6,399.7 198.1,398.4 C196.6,397.1 197.1,395.5 195.8,393.8 C194.5,392.1 192.4,389.5 190.1,388.1 C187.8,386.7 184.6,385.7 182.1,385.3 C179.6,384.9 177.5,384.8 175.2,385.8 C172.9,386.8 171,389 168.3,391.5 C165.6,394 162.2,398.4 159.2,400.7 C156.1,403 151.9,404.6 150,405.3 C148.1,406 150.9,403.9 147.9,405 C144.9,406.1 137.2,408.1 131.9,412.2 C126.6,416.3 120.3,422.8 115.8,429.5 C111.3,436.2 106.9,448.4 105.1,452.2 L105,460 L20,460 L20,296Z" stroke-width="1.7"/>
<path d="M258.8,452.2 C260.6,450.9 265.1,446.6 269.5,444.2 C273.9,441.8 278.4,439.4 285.5,437.6 C292.6,435.8 303.3,435.1 312.2,433.5 C321.1,431.9 330.9,430 338.9,428.2 C346.9,426.4 354.3,424.9 360.3,422.9 C366.3,420.9 371.7,417.3 375,416.2 C378.3,415.1 378.1,415.8 380.3,416.2 C382.5,416.6 385.9,419.3 388.4,418.9 C390.8,418.4 392.8,416.2 395,413.5 C397.2,410.8 398.3,406.6 401.7,402.8 C405.1,399 410.7,393.7 415.1,390.8 C419.6,387.9 423.9,386.7 428.4,385.5 C432.8,384.3 437.3,383.6 441.8,383.6 C446.3,383.6 450.8,384.3 455.2,385.5 C459.6,386.7 464.5,388.6 468.5,390.8 C472.5,393 476.8,395.5 479.2,398.8 C481.6,402.1 482.3,406.1 483.2,410.8 C484.1,415.5 483.6,422 484.5,426.9 C485.4,431.8 487.4,436.1 488.5,440.2 C489.6,444.3 490.8,449.5 491.2,451.4 L491.2,460 L250,460 L258.8,452.2Z" stroke-width="1.7"/>
<path d="M189,293.5 C189.7,293.6 191,296.5 191.5,298 C192,299.5 192.4,301.2 192.2,302.5 C192,303.8 191.1,305.4 190.5,306 C189.9,306.6 189.1,306.9 188.5,306.2 C187.9,305.5 187.4,303.4 187.2,302 C187,300.6 187.2,298.9 187.5,297.5 C187.8,296.1 188.3,293.4 189,293.5Z" stroke-width="1.4"/>
<ellipse cx="82" cy="417.5" rx="2.2" ry="8" stroke-width="1.4"/>
<path d="M577.5,396.9 C578.4,395.4 579.9,394 581.2,392.8 C582.5,391.6 583.8,388.7 585.2,389.6 C586.6,390.5 588.6,395.8 589.5,398 C590.4,400.2 590.5,401.2 590.6,403 C590.7,404.8 590.8,407.3 590,409 C589.2,410.7 587.4,412.6 585.6,413.3 C583.9,414 581,414.1 579.5,413.3 C578,412.5 577.1,410.6 576.5,408.7 C575.9,406.8 575.8,404 576,402 C576.2,400 576.6,398.4 577.5,396.9Z" stroke-width="1.7"/>
<path d="M611,347.3 C611.4,346.1 612.7,344.2 614.1,343.1 C615.5,342.1 617.9,340.8 619.3,341 C620.7,341.2 621.8,342.8 622.5,344.2 C623.2,345.6 623.9,348 623.5,349.4 C623.1,350.8 621.8,352 620.4,352.6 C619,353.2 616.5,353.4 615.1,353 C613.7,352.6 612.7,351.4 612,350.5 C611.3,349.6 610.6,348.5 611,347.3Z" stroke-width="1.7"/>
<path d="M282.9,298.7 C284.3,294.6 287.4,290.5 290,288.6 C292.6,286.7 295.7,286 298.6,287.2 C301.5,288.4 304.3,292.9 307.2,295.8 C310.1,298.7 312.4,302.7 315.8,304.4 C319.2,306.1 322.5,306 327.3,305.8 C332.1,305.6 338.2,304.7 344.4,303 C350.6,301.3 359.2,298.9 364.5,295.8 C369.8,292.7 373,288 375.9,284.4 C378.8,280.8 379.3,278.6 381.7,274.3 C384.1,270 387.8,263.2 390.2,258.6 C392.6,254 393.1,250.1 396.4,246.8 C399.6,243.5 404.4,240.1 409.7,238.8 C415,237.5 422.6,238.6 428.4,238.8 C434.2,239 439.6,240.6 444.5,240.1 C449.4,239.6 452.9,238.1 457.8,236.1 C462.7,234.1 468.5,231 473.9,228.1 C479.2,225.2 485.4,218.9 489.9,218.7 C494.3,218.5 497,224.4 500.6,226.8 C504.2,229.2 507.8,231 511.3,233.4 C514.9,235.8 518.4,239.4 521.9,241.4 C525.4,243.4 529,245.3 532.6,245.5 C536.2,245.7 540.4,243.7 543.3,242.8 C546.2,241.9 547.7,241 550,240.1 C552.3,239.2 554.6,237.2 557.1,237.4 C559.6,237.6 563.1,239 565.1,241.4 C567.1,243.8 567.8,249.2 569.1,252.1 C570.4,255 571.6,259.5 573.1,258.8 C574.6,258.1 576.2,251.7 578.4,248.1 C580.6,244.5 583.7,240.5 586.4,237.4 C589.1,234.3 591.4,232.3 594.5,229.4 C597.6,226.5 601.7,222.1 605.2,220.1 C608.8,218.1 612.2,216.7 615.8,217.4 C619.3,218.1 624.7,223 626.5,224.1 L640,230 L640,275 L626.5,281.5 C624.7,283.3 619.3,288.2 615.8,292.2 C612.2,296.2 608.3,301 605.2,305.6 C602.1,310.2 598.7,316.7 597.1,320 C595.5,323.3 597.1,322 595.8,325.3 C594.5,328.6 591.8,336.4 589.1,340 C586.4,343.6 583.4,346 579.8,346.7 C576.2,347.4 571.7,346.2 567.7,344 C563.7,341.8 558.4,337.4 555.7,333.4 C553,329.4 551.7,324.2 551.7,320 C551.7,315.8 554.6,312.4 555.7,308.2 C556.8,304 558.4,298.9 558.4,294.9 C558.4,290.9 557.7,286.5 555.7,284.2 C553.7,281.9 550.2,280.8 546.4,281 C542.6,281.2 536.6,284 533,285.5 C529.4,287 527.6,287.9 525,290 C522.4,292.1 519.9,296.3 517.2,298.2 C514.5,300.1 511.1,300.3 508.7,301.5 C506.3,302.7 503.9,303.9 503,305.3 C502.1,306.7 502.4,308 503,310.1 C503.6,312.2 505.1,315 506.8,317.7 C508.6,320.4 513.2,323.9 513.5,326.3 C513.8,328.7 510.4,331.6 508.7,332.1 C506.9,332.6 505.2,330.5 503,329.2 C500.8,327.9 497.9,325.5 495.4,324.4 C492.8,323.3 490.9,322.3 487.7,322.5 C484.5,322.7 479.8,324.1 476.3,325.4 C472.8,326.7 469.6,328.5 466.7,330.1 C463.8,331.7 460.7,334.7 459.1,334.9 C457.5,335.1 458.1,333 457.2,331.1 C456.2,329.2 454,328.3 453.4,323.5 C452.8,318.7 453.4,308.3 453.4,302.5 C453.4,296.7 453.5,292.9 453.2,288.9 C452.9,284.8 452.6,281.3 451.7,278.2 C450.8,275.1 449.5,272.2 447.9,270.5 C446.2,268.8 443.9,267.9 441.8,268.2 C439.8,268.5 437.4,269.7 435.6,272.1 C433.8,274.5 432.9,277.9 431.1,282.7 C429.3,287.5 426.4,297.2 425,301.1 C423.6,305 424,303.4 423,306 C422,308.6 421,312.8 419.1,316.4 C417.2,320 414,324.9 411.5,327.8 C409,330.7 406.6,332 404,334 C401.4,336 398.7,338 396,340 C393.3,342 390.6,344 388,346 C385.4,348 382.8,349.5 380.5,352 C378.2,354.5 377.1,358.5 374,361 C370.9,363.5 365.7,364.7 362,367 C358.3,369.3 355.3,372.3 352,375 C348.7,377.7 345.2,380.8 342,383 C338.8,385.2 335.5,387.7 333,388 C330.5,388.3 328.8,386.8 327,385 C325.2,383.2 322.7,380 322,377 C321.3,374 322.5,369.2 323,367 C323.5,364.8 323.3,365 325,364 C326.7,363 331.5,362.5 333,361 C334.5,359.5 334.8,356.5 334,355 C333.2,353.5 329.8,354 328,352 C326.2,350 324.7,345.8 323,343 C321.3,340.2 319.7,338.1 318,335 C316.3,331.9 315.2,326.9 312.9,324.4 C310.6,321.9 307.7,320.1 304.4,320.1 C301.1,320.1 295.8,322.2 292.9,324.4 C290,326.5 288.9,332.5 287.2,333 C285.5,333.5 283.8,330.6 282.9,327.3 C281.9,324 281.5,317.8 281.5,313 C281.5,308.2 281.5,302.8 282.9,298.7Z" stroke-width="1.7"/>
<path d="M20,361.4 L34.4,361.4 C37.3,361.2 47.5,362.1 51.7,360.1 C55.9,358.1 57.2,354.1 59.7,349.4 C62.2,344.7 64.4,336.7 66.4,332 C68.4,327.3 70.2,324 71.8,321.3 C73.4,318.6 74.2,316 76,316 C77.8,316 80,318.4 82.4,321.3 C84.8,324.2 89.2,329.2 90.5,333.4 C91.8,337.6 92.3,341.4 90.5,346.7 C88.7,352 82.9,359.6 79.8,365.4 C76.7,371.2 74,374.7 71.8,381.4 C69.6,388.1 67.8,398.8 66.4,405.5 C65.1,412.2 64.8,416.1 63.7,421.5 C62.6,426.9 61,432.5 59.7,437.6 C58.4,442.7 56.4,449.8 55.7,452.2 L55,460 L20,460 L20,361.4Z" stroke-width="1.7"/>
<path d="M550.4,460 L550.4,451.4 C550.6,448.2 550.8,437.6 551.7,432.2 C552.6,426.8 553.9,421.6 555.7,418.9 C557.5,416.2 560.2,415.3 562.4,416.2 C564.6,417.1 567.1,421.1 569.1,424.2 C571.1,427.3 572.6,431.3 574.4,434.9 C576.2,438.5 578.5,442.9 579.8,445.6 C581.1,448.4 582,450.4 582.4,451.4 L583,460 L550.4,460Z" stroke-width="1.7"/>
<ellipse cx="133.2" cy="302.5" rx="10.5" ry="13.5" stroke-width="1.7"/>
<path d="M398.1,264 C398.8,262.5 400.3,263 401.5,263.2 C402.7,263.4 404.4,263.4 405.2,265 C406,266.6 406.5,270.3 406.2,273 C405.9,275.7 404.2,277.4 403.2,281.1 C402.2,284.8 401,290.1 400.2,295.1 C399.4,300.1 398.6,306.4 398.1,311.1 C397.6,315.8 397.9,319.9 397.1,323.2 C396.3,326.5 395.3,328.2 393.1,331.2 C390.9,334.2 387.9,338 384.1,341.2 C380.3,344.4 374.5,348.2 370.1,350.2 C365.8,352.2 361.4,353.4 358,353.2 C354.6,353 351.8,351.5 350,349.2 C348.2,346.9 347.3,343.2 347,339.2 C346.7,335.2 346.8,329.2 348,325.2 C349.2,321.2 351,318.2 354,315.2 C357,312.2 361.8,310 366.1,307.1 C370.5,304.2 375.3,301.3 380.1,298.1 C384.9,294.9 392.1,290.9 395.1,288.1 C398.1,285.3 397.7,283.8 398.1,281.1 C398.5,278.4 397.5,274.9 397.5,272 C397.5,269.1 397.4,265.5 398.1,264Z" stroke-width="1.7"/>
<path d="M565.1,320 C567.1,315.4 572.7,300.4 575.8,292.2 C578.9,284 580.7,276.4 583.8,270.8 C586.9,265.2 591.4,260.6 594.5,258.8 C597.6,257 600.7,258.1 602.5,260.1 C604.3,262.1 605,266.8 605.2,270.8 C605.4,274.8 605.1,280.2 603.8,284.2 C602.4,288.2 599.5,290.9 597.1,294.9 C594.7,298.9 591.1,304 589.1,308.2 C587.1,312.4 586.4,316 585.1,320 C583.8,324 583.1,329.1 581.1,332 C579.1,334.9 575.6,337.2 573.1,337.4 C570.6,337.6 568,336.3 566.4,333.4 C564.8,330.5 563.9,322.2 563.7,320 C563.5,317.8 563.1,324.6 565.1,320Z" stroke-width="1.7"/>
<path d="M40.4,403.6 C40.6,402.2 40.9,399.8 41.9,398.6 C42.9,397.4 45,396.3 46.2,396.5 C47.4,396.7 48.4,398.9 49,400 C49.6,401.1 49.6,402 50,403 C50.4,404 51.6,404.9 51.2,405.8 C50.8,406.7 48.3,407.3 47.6,408.6 C46.9,409.9 47.5,413 46.9,413.6 C46.3,414.2 45,412.7 44,412.2 C43,411.7 41.8,411.6 41.2,410.8 C40.6,410 40.5,408.4 40.4,407.2 C40.3,406 40.1,405 40.4,403.6Z" stroke-width="1.4"/>
<ellipse cx="213.2" cy="287.3" rx="1.3" ry="2.8" stroke-width="1.0"/>
</g></g>
<g fill="none" stroke="#000" stroke-width="1.65" stroke-linejoin="miter" stroke-linecap="square">
<path d="M38.6,79 L570.2,78.6"/>
<path d="M38.6,79 L38.6,447.2"/>
<path d="M38.6,447.2 L621.2,447.5"/>
<path d="M570.2,78.6 L570.5,81.1 L569.9,83.5 L570,86 L571.9,88 L572.9,90.6 L574,93 L574.2,95.7 L574.5,98.3 L574,101 L575.5,102.8 L576,105 L577.2,107.6 L577.5,110.5 L579,113 L579.5,115.6 L580.6,118 L580,120.4 L578.6,122.6 L578,125 L577.2,127.2 L577.1,129.5 L576.3,131.7 L576.6,134 L576.4,136.3 L577.2,138.7 L576.6,141 L576.2,143.7 L575.5,146.3 L576,149 L576.6,151.4 L576.3,153.9 L577.6,156.1 L577.9,158.5 L578,161 L578.2,163.8 L576.4,166.2 L576.6,169 L576.7,172 L577.4,175 L577.9,178 L578,181 L578.6,183.8 L579.7,186.4 L581,189 L582.5,191.5 L582.6,194.5 L584,197 L584.3,199.5 L584.8,202 L586.1,204.4 L586,207 L587.1,209.4 L587.2,212.1 L588.7,214.4 L589,217 L589.6,219.7 L590.8,222.2 L591,225 L591.9,227.7 L593.6,230.1 L594,233 L595.3,235.9 L596,239 L595.8,241.6 L597,244 L596.9,246.6 L598,249 L597.8,251.7 L598.2,254.4 L599,257 L599.4,259.4 L599.1,261.8 L598.6,264.2 L598.7,266.6 L599,269 L598.9,271.2 L599.5,273.4 L598.9,275.7 L600.2,277.8 L600,280 L599.6,282.4 L600.9,284.8 L601,287.2 L600.5,289.6 L601,292 L601.1,294.6 L601.9,297.2 L601.8,299.8 L601.1,302.4 L601.4,305 L601.4,307.5 L601.4,310 L601.3,312.5 L601.9,315 L601.2,317.5 L601.4,320 L601.4,323.3 L603.8,324.8 L604.3,327.2 L602.4,328.1 L601.9,330.6 L602.7,333.1 L602.7,335.6 L602.4,338.1 L604.3,340 L605.6,343 L605.7,346.3 L605.3,348.9 L604.6,351.5 L604.6,354.1 L604.7,356.8 L604.3,359.2 L604.2,361.7 L604.7,364.1 L605.5,366.4 L606.6,368.7 L607,371.1 L607.8,373.5 L607.8,375.9 L609.3,378 L609.6,380.3 L609.3,382.7 L609.9,385 L611.3,386.8 L611.9,389.1 L614,390.4 L615.1,392.4 L616.1,394.5 L616.6,396.9 L617.7,398.9 L619.3,400.7 L619.7,403.1 L619.5,405.5 L619.7,407.9 L618.9,410.3 L619.1,412.7 L619.2,415.1 L619.3,417.5 L620,419.6 L621.5,421.5 L622.2,423.6 L622.5,425.9 L622.5,428.7 L623,431.4 L622.5,434.2 L621.6,437.3 L621.4,440.5 L620.8,442.8 L622,445.2 L621.4,447.5"/>
<path d="M604.3,327.2 L606.7,328.6 L607.2,330.5 L605.7,335.3 L603.8,338.1"/>
<path d="M38.6,123.3 L129.2,123.3"/>
<path d="M125.2,79 L125.2,113.4 L129.2,113.4 L129.2,154.7 L133.8,154.7 L133.8,184.1"/>
<path d="M129.2,133.4 L200.2,133.3"/>
<path d="M196.5,79 L196.5,101.5 L186.5,101.5 L186.5,112.6 L180,112.6 L180,133.3"/>
<path d="M196.5,101.5 L196.5,112.7 L210.5,112.7 L210.5,144.1 L271.4,144.1"/>
<path d="M238,79 L238,112.9 L240.5,112.9 L240.5,133.3 L271.4,133.3"/>
<path d="M271.4,123.1 L271.4,154.8 L274.8,154.8 L274.8,196.5 L278,196.5 L278,217.2"/>
<path d="M271.4,123.1 L322.6,123.2 L322.6,132.8"/>
<path d="M322.6,132.8 L393,132.8"/>
<path d="M339.7,78.6 L339.7,112.1 L342.3,112.1 L342.3,132.8"/>
<path d="M332,132.8 L332,154.1 L335.5,154.1 L335.5,197.4 L338.4,197.4 L338.4,217.2"/>
<path d="M200.2,133.3 L200.2,154.8 L204.6,154.8 L204.6,196.8 L208.2,196.8 L208.2,217.4"/>
<path d="M390.4,78.6 L390.4,112.6 L393,112.6 L393,154.1"/>
<path d="M366.4,154.1 L434.7,154.1"/>
<path d="M366.4,154.1 L366.4,197.4 L368.8,197.4 L368.8,217.2"/>
<path d="M433.3,78.6 L433.3,112.1 L434.7,112.1 L434.7,154.1"/>
<path d="M38.6,200.8 L42.6,201.9 L45.7,200.8 L49.9,202.9 L53.1,200.8 L55.2,198.7 L59.4,196.6 L58.3,193.5 L63.6,191.4 L62.5,188.2 L68.8,186.2 L74.1,184.1 L76.2,190.3 L80.3,196.6 L86.6,195.6 L90.8,196.6 L99.2,192.4 L102.4,191.4 L104.5,184.1 L139.6,184.2 L140.7,187.6 L145.3,188.7 L146.4,191 L149.9,193.3 L151,196.8 L155.6,200.2 L148.7,210.5 L148.7,223.1 L152.2,224.2 L157.9,226.5 L169.3,227.7 L170.5,224.2 L175.1,223.5 L177.4,225.4 L177.4,231.1 L178.5,234.5 L178.5,246 L180.8,250.6 L195.7,250.6 L196,255.3 L212.3,260.5 L221.8,255.3 L242.6,251.5 L247.7,256.6 L241.5,263.5 L244.3,264.6 L248.3,275.5 L248.9,284.1 L255.8,288.7 L259.8,289.8 L263.8,285.8 L273.5,284.7 L277,289.2 L277.5,296.1 L277.6,298.4 L279.7,306.8 L280.7,317.3 L281.8,326.7 L284.9,334.1 L288.1,340.3 L290.2,345.6 L289.1,350.8 L292.3,352.9 L294.4,357.1 L298.6,357.1 L296.5,361.3 L301.7,359.2 L303.8,361.3 L301.7,364.5 L307,366.6 L310.1,369.7 L309.1,373.9 L307,378.1 L308,384.4 L306.1,385 L307.4,389 L310.7,394.4 L310.7,402.4 L310.1,409.1 L310.1,413.8 L307.4,419.8 L304.7,424.5 L306.1,431.8 L309.4,437.2 L312.7,441.2 L314.1,447.2"/>
<path d="M168.9,217.4 L168.9,227.7"/>
<path d="M168.9,217.4 L467.7,218"/>
<path d="M147.6,210.5 L147.6,237.8 L112.3,237.8 L112.3,280.4"/>
<path d="M39,280.4 L117.4,280.4 L117.4,321.6"/>
<path d="M68.6,280.4 L68.6,321.6 L73.7,321.6 L73.7,364"/>
<path d="M68.6,321.6 L157.8,321.6 L157.8,319.5 L186.9,319.5"/>
<path d="M181.8,250.6 L181.8,280.4 L186.9,280.4 L186.9,321.4 L190.7,321.4 L190.7,364 L194.6,364 L194.6,406.2 L198.1,406.2 L198.1,447.2"/>
<path d="M102,321.6 L102,364"/>
<path d="M38.6,374.8 L57.3,374.8 L57.3,364 L194.6,364"/>
<path d="M190.7,321.4 L282.7,321.4"/>
<path d="M190.7,353.7 L219.8,353.7 L219.8,364 L253,364 L253,396.1 L272,396.1 L272,405.1"/>
<path d="M216.6,290.3 L259.8,290.3"/>
<path d="M216.6,290.5 L216.6,321.4"/>
<path d="M301.6,245 L301.6,280.2 L295.6,280.2 L295.6,300.3 L281,300.3"/>
<path d="M126,364 L126,406"/>
<path d="M38.6,405.8 L159.2,405.8"/>
<path d="M120.6,406 L120.6,447.2"/>
<path d="M159.2,406 L159.2,415.6 L198.1,415.6"/>
<path d="M198.1,432.7 L210.7,431.6 L211.8,436.2 L218.7,435 L225.6,438.5 L230.1,436.2 L234.7,439.6 L241.6,433.9 L248.5,430.5 L252,429.2 L254,424.2 L260,422.2 L262,416.1 L268,412.1 L270,408.1 L272,405.1 L275.1,401.1 L280.1,396.1 L285.1,391.1 L290,393.7 L296.7,392.4 L298.7,394.4 L300.7,391 L306.1,389 L307.4,389"/>
<path d="M301.6,245 L301.5,237.4 L308.2,237.4 L308.2,218"/>
<path d="M295.6,280.2 L474.5,280.5"/>
<path d="M348.3,218 L348.3,237.4 L351,237.4 L351,280.2"/>
<path d="M345,280.2 L345,322.4 L347.8,322.4 L347.8,363.4"/>
<path d="M394,280.2 L394,322.4 L397.1,322.4 L397.1,363.4"/>
<path d="M304.1,363.4 L603.8,364.1"/>
<path d="M360.3,363.4 L360.3,405.8"/>
<path d="M360.3,405.8 L566.4,405.8"/>
<path d="M363,405.8 L363,447.3"/>
<path d="M429.8,364 L429.8,405.8 L431.1,405.8 L431.1,447.4"/>
<path d="M507.2,364 L507.2,406 L509.1,406 L509.1,447.4"/>
<path d="M565.1,364 L565.1,405.8 L566.6,405.8 L566.6,441.3 L570,441.3 L570,447.4"/>
<path d="M434.7,133.5 L576.3,133.8"/>
<path d="M514.5,78.6 L514.5,133.7"/>
<path d="M486.8,133.5 L486.8,175.6"/>
<path d="M477.3,175.6 L577.5,175.6"/>
<path d="M477.3,175.6 L477.3,196.8 L467.7,196.8 L467.7,237.4 L470.5,237.4 L470.5,280.5"/>
<path d="M518.3,175.6 L518.3,237.4"/>
<path d="M416.1,154.1 L416.2,180.5 L425.8,186.3 L426.7,194.9 L431.5,193.9 L433.4,199.6 L438.2,197.7 L441,195.8 L446.7,193.9 L449.6,201.5 L448.6,204.4 L455.3,200.6 L461,208.2 L467.7,208.2"/>
<path d="M408.7,218 L408.7,238.7 L411.6,238.7 L411.6,280.5"/>
<path d="M411.6,238.7 L467.7,238.7"/>
<path d="M411.6,249 L470.5,249"/>
<path d="M467.7,239 L595.8,238.2"/>
<path d="M474.5,290 L601,290.9"/>
<path d="M474.5,280.5 L474.5,363.8"/>
<path d="M511.3,237.6 L511.3,289.7"/>
<path d="M550.9,238.2 L550.9,290.9"/>
<path d="M533,290.5 L533,320 L534.5,364"/>
</g>
<g fill="#000" stroke="#000" stroke-width="100">
<g transform="translate(91.50,113.60) rotate(65.0) scale(0.00537,-0.00537) translate(-570,-704)"><use href="#gl49" x="0"/></g>
<g transform="translate(117.20,153.10) rotate(-41.0) scale(0.00537,-0.00537) translate(-1424,-704)"><use href="#gl48" x="0"/><use href="#gl46" x="1139"/><use href="#gl53" x="1708"/></g>
<g transform="translate(157.10,187.10) rotate(61.0) scale(0.00537,-0.00537) translate(-570,-704)"><use href="#gl49" x="0"/></g>
<g transform="translate(52.00,239.40) rotate(-39.0) scale(0.00537,-0.00537) translate(-1424,-704)"><use href="#gl48" x="0"/><use href="#gl46" x="1139"/><use href="#gl53" x="1708"/></g>
<g transform="translate(58.70,279.50) rotate(0.0) scale(0.00537,-0.00537) translate(-570,-704)"><use href="#gl49" x="0"/></g>
<g transform="translate(203.40,86.70) rotate(55.0) scale(0.00537,-0.00537) translate(-1424,-704)"><use href="#gl48" x="0"/><use href="#gl46" x="1139"/><use href="#gl53" x="1708"/></g>
<g transform="translate(330.20,102.20) rotate(35.0) scale(0.00537,-0.00537) translate(-1424,-704)"><use href="#gl48" x="0"/><use href="#gl46" x="1139"/><use href="#gl53" x="1708"/></g>
<g transform="translate(326.20,180.70) rotate(-56.0) scale(0.00537,-0.00537) translate(-1424,-704)"><use href="#gl48" x="0"/><use href="#gl46" x="1139"/><use href="#gl53" x="1708"/></g>
<g transform="translate(174.20,258.20) rotate(-63.0) scale(0.00537,-0.00537) translate(-570,-704)"><use href="#gl49" x="0"/></g>
<g transform="translate(281.10,259.50) rotate(-50.0) scale(0.00537,-0.00537) translate(-570,-704)"><use href="#gl49" x="0"/></g>
<g transform="translate(363.60,270.50) rotate(-85.0) scale(0.00537,-0.00537) translate(-570,-704)"><use href="#gl49" x="0"/></g>
<g transform="translate(455.00,179.10) rotate(80.0) scale(0.00537,-0.00537) translate(-570,-704)"><use href="#gl49" x="0"/></g>
<g transform="translate(504.90,184.90) rotate(80.0) scale(0.00537,-0.00537) translate(-570,-704)"><use href="#gl49" x="0"/></g>
<g transform="translate(512.90,235.10) rotate(40.0) scale(0.00537,-0.00537) translate(-1424,-704)"><use href="#gl49" x="0"/><use href="#gl46" x="1139"/><use href="#gl53" x="1708"/></g>
<g transform="translate(283.70,321.70) rotate(90.0) scale(0.00537,-0.00537) translate(-1424,-704)"><use href="#gl49" x="0"/><use href="#gl46" x="1139"/><use href="#gl53" x="1708"/></g>
<g transform="translate(348.40,342.50) rotate(90.0) scale(0.00537,-0.00537) translate(-570,-704)"><use href="#gl50" x="0"/></g>
<g transform="translate(383.10,351.40) rotate(-50.0) scale(0.00537,-0.00537) translate(-1424,-704)"><use href="#gl49" x="0"/><use href="#gl46" x="1139"/><use href="#gl53" x="1708"/></g>
<g transform="translate(414.30,350.90) rotate(-22.0) scale(0.00537,-0.00537) translate(-570,-704)"><use href="#gl49" x="0"/></g>
<g transform="translate(300.50,377.40) rotate(72.0) scale(0.00537,-0.00537) translate(-570,-704)"><use href="#gl49" x="0"/></g>
<g transform="translate(535.30,285.80) rotate(-25.0) scale(0.00537,-0.00537) translate(-1424,-704)"><use href="#gl49" x="0"/><use href="#gl46" x="1139"/><use href="#gl53" x="1708"/></g>
<g transform="translate(612.60,299.10) rotate(-55.0) scale(0.00537,-0.00537) translate(-1424,-704)"><use href="#gl49" x="0"/><use href="#gl46" x="1139"/><use href="#gl53" x="1708"/></g>
<g transform="translate(568.60,333.80) rotate(45.0) scale(0.00537,-0.00537) translate(-570,-704)"><use href="#gl50" x="0"/></g>
<g transform="translate(549.00,365.20) rotate(55.0) scale(0.00537,-0.00537) translate(-570,-704)"><use href="#gl49" x="0"/></g>
<g transform="translate(578.00,401.80) rotate(-80.0) scale(0.00537,-0.00537) translate(-570,-704)"><use href="#gl49" x="0"/></g>
<g transform="translate(367.40,418.90) rotate(-35.0) scale(0.00537,-0.00537) translate(-1424,-704)"><use href="#gl48" x="0"/><use href="#gl46" x="1139"/><use href="#gl53" x="1708"/></g>
<g transform="translate(487.20,433.00) rotate(65.0) scale(0.00537,-0.00537) translate(-1424,-704)"><use href="#gl48" x="0"/><use href="#gl46" x="1139"/><use href="#gl53" x="1708"/></g>
<g transform="translate(524.10,439.30) rotate(-90.0) scale(0.00537,-0.00537) translate(-570,-704)"><use href="#gl49" x="0"/></g>
<g transform="translate(551.50,433.00) rotate(-80.0) scale(0.00537,-0.00537) translate(-1424,-704)"><use href="#gl49" x="0"/><use href="#gl46" x="1139"/><use href="#gl53" x="1708"/></g>
<g transform="translate(62.60,342.90) rotate(-65.0) scale(0.00537,-0.00537) translate(-1424,-704)"><use href="#gl49" x="0"/><use href="#gl46" x="1139"/><use href="#gl53" x="1708"/></g>
<g transform="translate(48.90,407.00) rotate(-90.0) scale(0.00537,-0.00537) translate(-570,-704)"><use href="#gl50" x="0"/></g>
<g transform="translate(62.40,429.00) rotate(-72.0) scale(0.00537,-0.00537) translate(-1424,-704)"><use href="#gl49" x="0"/><use href="#gl46" x="1139"/><use href="#gl53" x="1708"/></g>
<g transform="translate(383.70,265.20) rotate(-60.0) scale(0.00537,-0.00537) translate(-1424,-704)"><use href="#gl49" x="0"/><use href="#gl46" x="1139"/><use href="#gl53" x="1708"/></g>
<g transform="translate(454.00,309.50) rotate(-90.0) scale(0.00537,-0.00537) translate(-1424,-704)"><use href="#gl49" x="0"/><use href="#gl46" x="1139"/><use href="#gl53" x="1708"/></g>
<g transform="translate(521.70,137.20) rotate(-52.0) scale(0.00537,-0.00537) translate(-570,-704)"><use href="#gl49" x="0"/></g>
<g transform="translate(198.40,396.30) rotate(57.0) scale(0.00537,-0.00537) translate(-570,-704)"><use href="#gl49" x="0"/></g>
</g>
<g stroke="#333" stroke-width="1">
<rect x="633.5" y="136.5" width="16" height="53" fill="#0000ff"/>
<rect x="633.5" y="189.5" width="16" height="53" fill="#00ffff"/>
<rect x="633.5" y="242.5" width="16" height="53" fill="#00ff00"/>
<rect x="633.5" y="295.5" width="16" height="53" fill="#ffff00"/>
<rect x="633.5" y="348.5" width="16" height="53" fill="#ff0000"/>
</g>
<g font-size="13" fill="#000">
<text x="653" y="193">2</text>
<text x="653" y="246">1.5</text>
<text x="653" y="299">1</text>
<text x="653" y="352">0.5</text>
<text x="653" y="405">0</text>
</g>
<text x="32.5" y="471" font-size="14.75" fill="#000">ND State Climate Office</text>
</svg>
</body></html>
